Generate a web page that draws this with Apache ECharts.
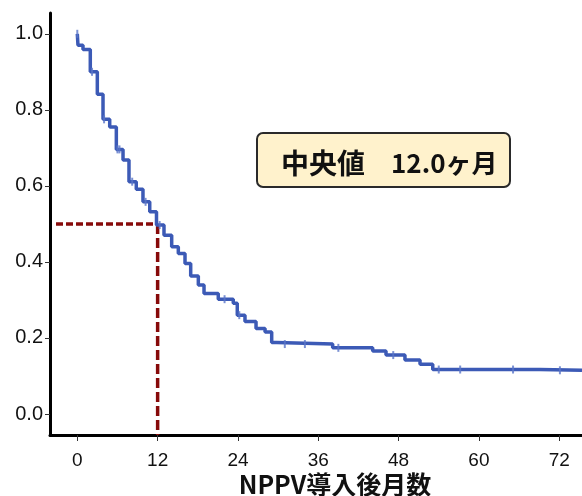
<!DOCTYPE html>
<html>
<head>
<meta charset="utf-8">
<script src="https://cdn.jsdelivr.net/npm/echarts@6/dist/echarts.min.js"></script>
<style>
html,body{margin:0;padding:0;background:#fff;}
#chart{width:582px;height:496px;}
</style>
</head>
<body>
<div id="chart"></div>
<script>
// Kaplan–Meier step curve: time (months) at which survival drops, and new survival value
var kmTimes = [0, 0.1, 0.85, 1.94, 2.99, 3.84, 4.84, 5.83, 6.83, 7.72, 8.81, 9.81, 10.82, 11.83,
  12.95, 14.1, 15.09, 16.09, 16.94, 18.08, 18.93, 21.06, 23.3, 23.9, 25.05, 26.7, 28.05, 29.04, 29.79,
  38.15, 44.13, 46.12, 48.95, 51.2, 53.1, 69.1, 75.4];
var kmSurvival = [1.0, 0.970, 0.959, 0.900, 0.841, 0.775, 0.755, 0.696, 0.668, 0.611, 0.591, 0.558, 0.532, 0.497,
  0.470, 0.440, 0.422, 0.396, 0.363, 0.339, 0.317, 0.302, 0.291, 0.260, 0.243, 0.225, 0.216, 0.188, 0.184,
  0.174, 0.166, 0.155, 0.142, 0.131, 0.117, 0.115, 0.115];
// censored observations
var censorTimes = [0.0, 2.2, 4.0, 6.0, 6.3, 8.2, 10.2, 12.3, 22.0, 24.2, 31.0, 34.0, 39.0, 47.2, 54.0, 57.2, 65.1, 72.1];
var censorSurvival = [1.0, 0.900, 0.775, 0.696, 0.696, 0.611, 0.558, 0.497, 0.302, 0.260, 0.184, 0.184, 0.174, 0.155, 0.117, 0.117, 0.117, 0.115];
// median survival
var medianTime = 12.0;
var medianSurv = 0.5;
// ticks
var xTicks = [0, 12, 24, 36, 48, 60, 72];
var yTicks = [0, 0.2, 0.4, 0.6, 0.8, 1.0];
var xTitle = 'NPPV導入後月数';
var noteLabel = '中央値';
var noteValue = '12.0ヶ月';

var xMin = -4.08, xMax = 75.4, yMin = -0.0552, yMax = 1.0547;

var kmData = kmTimes.map(function (t, i) { return [t, kmSurvival[i]]; });
var censorData = censorTimes.map(function (t, i) { return [t, censorSurvival[i]]; });

var chart = echarts.init(document.getElementById('chart'), null, {renderer: 'canvas'});
var fam = '"Liberation Sans", Arial, sans-serif';
chart.setOption({
  animation: false,
  backgroundColor: '#ffffff',
  grid: {left: 50, right: 0, top: 13, bottom: 61, containLabel: false},
  xAxis: {
    type: 'value', min: xMin, max: xMax,
    axisLine: {onZero: false, lineStyle: {color: '#000', width: 3}},
    axisTick: {show: true, customValues: xTicks, length: 6, lineStyle: {color: '#333', width: 1}},
    axisLabel: {customValues: xTicks, margin: 16, color: '#111', fontSize: 19, fontFamily: fam,
      formatter: function (v) { return String(v); }},
    splitLine: {show: false}
  },
  yAxis: {
    type: 'value', min: yMin, max: yMax,
    axisLine: {onZero: false, lineStyle: {color: '#000', width: 3}},
    axisTick: {show: true, customValues: yTicks, length: 5, lineStyle: {color: '#333', width: 1}},
    axisLabel: {customValues: yTicks, margin: 7, color: '#111', fontSize: 20, fontFamily: fam,
      formatter: function (v) { return v.toFixed(1); }},
    splitLine: {show: false}
  },
  series: [
    {
      type: 'line', name: 'medianH',
      data: [[xMin + 0.9, medianSurv], [medianTime, medianSurv]],
      symbol: 'none', silent: true, z: 3,
      lineStyle: {color: '#870a0a', width: 3.5, type: [7, 3]}
    },
    {
      type: 'line', name: 'medianV',
      data: [[medianTime, medianSurv], [medianTime, yMin]],
      symbol: 'none', silent: true, z: 3,
      lineStyle: {color: '#870a0a', width: 3.5, type: [10, 4]}
    },
    {
      type: 'line', name: 'KM', step: 'end',
      data: kmData, symbol: 'none', z: 4,
      lineStyle: {color: '#3c5ab6', width: 3.5}
    },
    {
      type: 'scatter', name: 'censor',
      data: censorData, symbol: 'rect', symbolSize: [2, 8], z: 5,
      itemStyle: {color: '#5a75c8'}
    }
  ],
  graphic: [
    {
      type: 'rect', z: 10,
      shape: {x: 257, y: 133, width: 253, height: 54, r: 6},
      style: {fill: '#fff2cc', stroke: '#2a2a2a', lineWidth: 2}
    },
    {
      type: 'text', z: 11,
      style: {text: noteLabel, x: 281, y: 163, font: 'bold 28px "Noto Sans CJK JP"', fill: '#111',
        textAlign: 'left', textVerticalAlign: 'middle', align: 'left', verticalAlign: 'middle'}
    },
    {
      type: 'text', z: 11,
      style: {text: noteValue, x: 391, y: 163, font: 'bold 26px "Noto Sans CJK JP"', fill: '#111',
        textAlign: 'left', textVerticalAlign: 'middle', align: 'left', verticalAlign: 'middle'}
    },
    {
      type: 'text', z: 11,
      style: {text: xTitle, x: 335, y: 484, font: 'bold 25px "Noto Sans CJK JP"', fill: '#111',
        textAlign: 'center', textVerticalAlign: 'middle', align: 'center', verticalAlign: 'middle'}
    }
  ]
});
</script>
</body>
</html>
